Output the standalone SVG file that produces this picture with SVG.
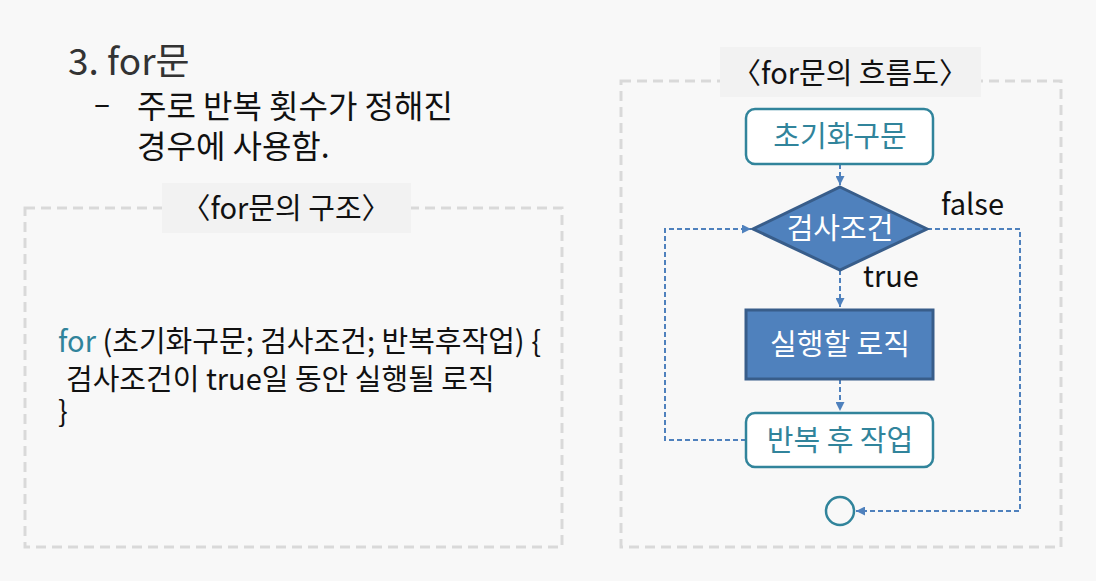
<svg xmlns="http://www.w3.org/2000/svg" width="1096" height="581" viewBox="0 0 1096 581">
<defs>
<style>
text{font-family:"Noto Sans CJK KR","Noto Sans",sans-serif;}
.frame{fill:none;stroke:#d9d9d9;stroke-width:3;stroke-dasharray:10 6;}
.tbg{fill:#f2f2f2;}
.ttl{font-size:29px;fill:#111;text-anchor:middle;}
.conn{fill:none;stroke:#4f81bd;stroke-width:2;stroke-dasharray:5 3;}
.soft{fill:#ffffff;stroke:#31849b;stroke-width:2.5;}
.softt{font-size:29px;fill:#31849b;text-anchor:middle;}
.hard{fill:#4f81bd;stroke:#385d8a;stroke-width:3;}
.hardt{font-size:29px;fill:#ffffff;text-anchor:middle;}
.lbl{font-size:29px;fill:#111;}
.code{font-size:29px;fill:#111;}
</style>
<marker id="ah" viewBox="0 0 10 10" refX="10" refY="5" markerWidth="4.5" markerHeight="4.5" orient="auto" markerUnits="strokeWidth">
<path d="M0,0 L10,5 L0,10 z" fill="#4f81bd"/>
</marker>
</defs>
<rect width="1096" height="581" fill="#f8f8f8"/>

<g id="heading">
<text x="68" y="75" font-size="37" fill="#333333">3. for문</text>
<text x="94" y="114" font-size="30" font-family="'Noto Sans',sans-serif" fill="#111">–</text>
<text x="137" y="118" font-size="32" fill="#111">주로 반복 횟수가 정해진</text>
<text x="137" y="158" font-size="32" fill="#111">경우에 사용함.</text>
</g>

<g id="structure">
<rect class="frame" x="25" y="208" width="537" height="339"/>
<rect class="tbg" x="162" y="183" width="249" height="50"/>
<text class="ttl" x="286" y="219">〈for문의 구조〉</text>
<text class="code" x="58" y="352"><tspan fill="#31849b">for</tspan> (초기화구문; 검사조건; 반복후작업) {</text>
<text class="code" x="66" y="390">검사조건이 true일 동안 실행될 로직</text>
<text class="code" x="58" y="422">}</text>
</g>

<g id="flow-frame">
<rect class="frame" x="621" y="81" width="440" height="466"/>
<rect class="tbg" x="720" y="47" width="261" height="50"/>
<text class="ttl" x="850" y="84">〈for문의 흐름도〉</text>
</g>

<g id="connectors">
<path class="conn" d="M840,164 V185" marker-end="url(#ah)"/>
<path class="conn" d="M840,270 V307" marker-end="url(#ah)"/>
<path class="conn" d="M840,379 V411" marker-end="url(#ah)"/>
<path class="conn" d="M746,440 H665 V229 H751" marker-end="url(#ah)"/>
<path class="conn" d="M927,229 H1020 V511 H856" marker-end="url(#ah)"/>
<text class="lbl" x="941" y="215">false</text>
<text class="lbl" x="863" y="287">true</text>
</g>

<g id="init">
<rect class="soft" x="746" y="109" width="187" height="55" rx="9"/>
<text class="softt" x="840" y="147">초기화구문</text>
</g>

<g id="cond">
<polygon class="hard" points="840,187 927,229 840,270 753,229" stroke-width="2.5"/>
<text class="hardt" x="840" y="239">검사조건</text>
</g>

<g id="body">
<rect class="hard" x="746" y="310" width="187" height="69"/>
<text class="hardt" x="840" y="355">실행할 로직</text>
</g>

<g id="update">
<rect class="soft" x="746" y="413" width="187" height="54" rx="9"/>
<text class="softt" x="840" y="451">반복 후 작업</text>
</g>

<g id="end">
<circle cx="840" cy="511" r="14" fill="#f8f8f8" stroke="#31849b" stroke-width="2.5"/>
</g>
</svg>
